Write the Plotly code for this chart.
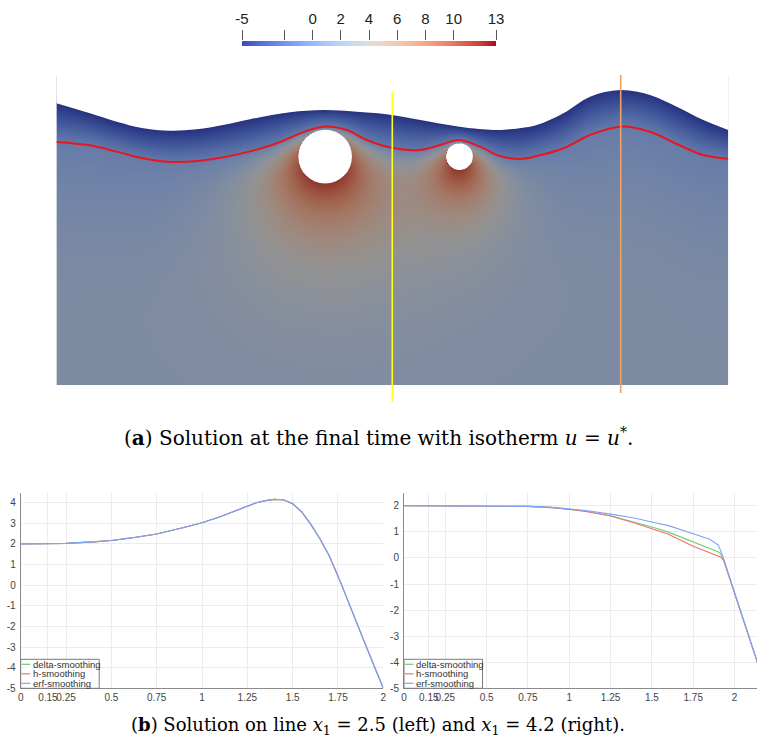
import numpy as np
import plotly.graph_objects as go

W, H = 757, 749

# ---------------- data ----------------
# upper boundary of the domain, x2 = h(x1)
surface_x = [0.0, 0.25, 0.449, 0.647, 0.846, 1.044, 1.240, 1.441, 1.739, 1.987, 2.284, 2.496,
             2.781, 3.054, 3.277, 3.376, 3.575, 3.773, 3.972, 4.195, 4.418, 4.617, 4.815, 5.0]
surface_y = [2.097, 2.022, 1.960, 1.911, 1.893, 1.903, 1.935, 1.978, 2.030, 2.047, 2.030, 2.010,
             1.960, 1.915, 1.898, 1.903, 1.935, 2.022, 2.146, 2.196, 2.159, 2.071, 1.972, 1.898]

# isotherm u = u* (= 0)
iso_x = [0.0, 0.25, 0.449, 0.647, 0.846, 1.044, 1.242, 1.441, 1.640, 1.739, 1.813, 1.987, 2.161,
         2.310, 2.496, 2.706, 2.855, 2.991, 3.153, 3.302, 3.451, 3.575, 3.773, 3.972, 4.195,
         4.418, 4.617, 4.815, 5.0]
iso_y = [1.809, 1.784, 1.737, 1.687, 1.660, 1.667, 1.695, 1.739, 1.799, 1.841, 1.873, 1.923, 1.898,
         1.824, 1.766, 1.749, 1.786, 1.824, 1.774, 1.704, 1.682, 1.704, 1.762, 1.861, 1.923,
         1.885, 1.794, 1.712, 1.684]

# heated holes
circle_x = [2.0, 3.0]
circle_y = [1.70, 1.70]
circle_r = [0.20, 0.10]
circle_u = [11.5, 13.0]
plume_width = [0.30, 0.20]
plume_stretch = 0.30
surface_u = -5.0
iso_taper = 0.12

# probe lines
probe_x = [2.5, 4.2]
probe_bottom = [-0.127, -0.06]
probe_top = [2.181, 2.307]
probe_colors = ["#ffff1a", "#f2a064"]

# solution along x1 = 2.5
left_x = [0.0, 0.1, 0.25, 0.4, 0.5, 0.6, 0.75, 0.9, 1.0, 1.1, 1.2, 1.25, 1.3, 1.35, 1.4, 1.45,
          1.5, 1.55, 1.6, 1.65, 1.7, 1.75, 1.77, 1.85, 1.9, 1.95, 2.0]
left_delta = [2.0, 2.01, 2.03, 2.1, 2.17, 2.28, 2.48, 2.8, 3.03, 3.32, 3.66, 3.84, 4.0, 4.1, 4.16,
              4.13, 3.95, 3.55, 2.95, 2.25, 1.45, 0.45, 0.0, -1.75, -2.85, -3.95, -5.0]
left_h = [2.0, 2.01, 2.03, 2.1, 2.17, 2.28, 2.48, 2.8, 3.03, 3.32, 3.66, 3.84, 4.0, 4.1, 4.16,
          4.13, 3.95, 3.55, 2.95, 2.25, 1.45, 0.42, 0.02, -1.75, -2.85, -3.95, -5.0]
left_erf = [2.0, 2.01, 2.03, 2.1, 2.17, 2.28, 2.48, 2.8, 3.03, 3.32, 3.66, 3.84, 4.0, 4.1, 4.17,
            4.14, 3.96, 3.56, 2.96, 2.26, 1.46, 0.46, 0.0, -1.75, -2.85, -3.95, -5.0]

# solution along x1 = 4.2
right_x = [0.0, 0.25, 0.5, 0.75, 0.9, 1.0, 1.1, 1.25, 1.4, 1.5, 1.6, 1.75, 1.85, 1.9, 1.915,
           1.935, 2.0, 2.1, 2.19]
right_delta = [2.0, 2.0, 2.0, 1.98, 1.93, 1.87, 1.79, 1.62, 1.37, 1.19, 0.99, 0.61, 0.36, 0.24,
               0.17, -0.1, -1.35, -3.3, -5.0]
right_h = [2.0, 2.0, 2.0, 1.98, 1.93, 1.87, 1.78, 1.61, 1.33, 1.13, 0.91, 0.45, 0.2, 0.08, 0.04,
           -0.1, -1.35, -3.3, -5.0]
right_erf = [2.0, 2.0, 2.0, 1.98, 1.94, 1.88, 1.82, 1.68, 1.52, 1.38, 1.24, 0.93, 0.72, 0.5, 0.3,
             -0.05, -1.3, -3.28, -5.0]

series_names = ["delta-smoothing", "h-smoothing", "erf-smoothing"]
series_colors = ["#6fcf6f", "#f07272", "#78a4ff"]

line_xticks = [0, 0.15, 0.25, 0.5, 0.75, 1, 1.25, 1.5, 1.75, 2]
line_xticktext = ["0", "0.15", "0.25", "0.5", "0.75", "1", "1.25", "1.5", "1.75", "2"]
left_yticks = [-5, -4, -3, -2, -1, 0, 1, 2, 3, 4]
right_yticks = [-5, -4, -3, -2, -1, 0, 1, 2]

cbar_ticks = [-5, 0, 2, 4, 6, 8, 10, 13]
cbar_minor_ticks = [-2]
u_min, u_max = -5, 13

# Cool to Warm (Moreland) colour map control points
cw_pos = [0.0, 0.0625, 0.125, 0.1875, 0.25, 0.3125, 0.375, 0.4375, 0.5, 0.5625, 0.625, 0.6875,
          0.75, 0.8125, 0.875, 0.9375, 1.0]
cw_rgb = [(59, 76, 192), (77, 104, 215), (98, 130, 234), (119, 154, 247), (141, 176, 254),
          (163, 194, 255), (184, 208, 249), (204, 217, 238), (221, 221, 221), (236, 211, 197),
          (245, 196, 173), (247, 177, 148), (244, 154, 123), (236, 127, 99), (222, 96, 77),
          (203, 62, 56), (180, 4, 38)]
shade = 0.66

# ---------------- helpers ----------------
def fx(px):
    return px / W


def fy(py):
    return 1 - py / H


def hermite(xk, yk, xq):
    xk = np.asarray(xk, float)
    yk = np.asarray(yk, float)
    m = np.gradient(yk, xk)
    i = np.clip(np.searchsorted(xk, xq) - 1, 0, len(xk) - 2)
    hh = xk[i + 1] - xk[i]
    t = (xq - xk[i]) / hh
    return ((2 * t**3 - 3 * t**2 + 1) * yk[i] + (t**3 - 2 * t**2 + t) * hh * m[i]
            + (-2 * t**3 + 3 * t**2) * yk[i + 1] + (t**3 - t**2) * hh * m[i + 1])


def scale(f):
    return [[p, "rgb(%d,%d,%d)" % tuple(int(round(c * f)) for c in rgb)] for p, rgb in zip(cw_pos, cw_rgb)]


# ---------------- temperature field ----------------
nx, ny, ytop = 672, 310, 2.3
xc = (np.arange(nx) + 0.5) * 5.0 / nx
yc = (np.arange(ny) + 0.5) * ytop / ny
X, Y = np.meshgrid(xc, yc)
hs = hermite(surface_x, surface_y, xc)[None, :]
gi = hermite(iso_x, iso_y, xc)[None, :]
depth = gi - Y

rx = np.asarray(right_x)
pos = rx < 1.93
d_tab = np.concatenate([[0.0], (1.93 - rx[pos])[::-1]])
v_tab = np.concatenate([[0.0], np.asarray(right_delta)[pos][::-1]])
base = np.interp(np.maximum(depth, 0), d_tab, v_tab)

keep = np.ones_like(X)
num = np.zeros_like(X)
wsum = np.zeros_like(X)
inside = np.zeros_like(X, bool)
u_hole = np.zeros_like(X)
for cx, cy, r, T, lam in zip(circle_x, circle_y, circle_r, circle_u, plume_width):
    dx = X - cx
    dy = Y - cy
    dist = np.hypot(dx, dy)
    d = np.maximum(dist - r, 0)
    down = np.clip(-dy / np.maximum(dist, 1e-9), 0, 1)
    de = d * (1 - plume_stretch * down)
    w = np.exp(-de / lam)
    num += w * T
    wsum += w
    keep *= (1 - w)
    inside |= dist < r
    u_hole = np.where(dist < r, T, u_hole)
w = (1 - keep) * (1 - np.exp(-np.maximum(depth, 0) / iso_taper))
Tm = num / np.maximum(wsum, 1e-12)
u_below = base * (1 - w) + Tm * w
frac = np.clip((Y - gi) / np.maximum(hs - gi, 1e-6), 0, 1)
u_cold = surface_u * frac
U = np.where(depth >= 0, u_below, u_cold)
U = np.where(inside, u_hole, U)
U = np.clip(U, u_min, u_max).astype(np.float32)

fig = go.Figure()

# field
fig.add_trace(go.Heatmap(x=xc, y=yc, z=U, colorscale=scale(shade), zmin=u_min, zmax=u_max,
                         showscale=False, hoverinfo="skip", xaxis="x", yaxis="y"))
# white area above the surface
fig.add_trace(go.Scatter(x=[-0.02, 5.02], y=[2.45, 2.45], mode="lines", line=dict(width=0),
                         hoverinfo="skip", xaxis="x", yaxis="y"))
fig.add_trace(go.Scatter(x=surface_x, y=surface_y, mode="lines", line=dict(width=0, shape="spline"),
                         fill="tonexty", fillcolor="white", hoverinfo="skip", xaxis="x", yaxis="y"))
# isotherm
fig.add_trace(go.Scatter(x=iso_x, y=iso_y, mode="lines", line=dict(color="#e8161e", width=2, shape="spline"),
                         hoverinfo="skip", xaxis="x", yaxis="y"))
# probe lines
for px_, y0, y1, col in zip(probe_x, probe_bottom, probe_top, probe_colors):
    fig.add_trace(go.Scatter(x=[px_, px_], y=[y0, y1], mode="lines", line=dict(color=col, width=1.6),
                             hoverinfo="skip", xaxis="x", yaxis="y"))

shapes = []
for cx, cy, r in zip(circle_x, circle_y, circle_r):
    shapes.append(dict(type="circle", xref="x", yref="y", x0=cx - r, x1=cx + r, y0=cy - r, y1=cy + r,
                       fillcolor="white", line=dict(width=0), layer="above"))

# line plots
for ys, col, name in zip([left_delta, left_h, left_erf], series_colors, series_names):
    fig.add_trace(go.Scatter(x=left_x, y=ys, mode="lines", name=name, line=dict(color=col, width=1.1),
                             xaxis="x2", yaxis="y2"))
for ys, col, name in zip([right_delta, right_h, right_erf], series_colors, series_names):
    fig.add_trace(go.Scatter(x=right_x, y=ys, mode="lines", name=name, line=dict(color=col, width=1.1),
                             xaxis="x3", yaxis="y3"))

# colour bar
cb_x = np.linspace(u_min, u_max, 256)
fig.add_trace(go.Heatmap(x=cb_x, y=[0], z=[cb_x], colorscale=scale(1.0), zmin=u_min, zmax=u_max,
                         showscale=False, hoverinfo="skip", xaxis="x4", yaxis="y4"))

tick_font = dict(family="Liberation Sans, Arial, sans-serif", size=10, color="#444444")
common_x = dict(tickvals=line_xticks, ticktext=line_xticktext, showgrid=True, gridcolor="#ececec",
                zeroline=False, showline=True, linecolor="#8a8a8a", linewidth=1, ticks="",
                tickfont=tick_font, tickangle=0, automargin=False, fixedrange=True)
common_y = dict(showgrid=True, gridcolor="#ececec", zeroline=False,
                showline=True, linecolor="#8a8a8a", linewidth=1, ticks="", tickfont=tick_font,
                ticklabelstandoff=2, tickangle=0, automargin=False, fixedrange=True)

# legends (drawn boxes)
annotations = []
for x_axis_px in [20.7, 404.0]:
    shapes.append(dict(type="rect", xref="paper", yref="paper", x0=fx(x_axis_px), x1=fx(x_axis_px + 78.5),
                       y0=fy(688.3), y1=fy(659.3), line=dict(color="#7a7a7a", width=1), fillcolor="rgba(255,255,255,0.6)"))
    for k, (name, col) in enumerate(zip(series_names, series_colors)):
        yy = 664.3 + 9.5 * k
        shapes.append(dict(type="line", xref="paper", yref="paper", x0=fx(x_axis_px + 0.8), x1=fx(x_axis_px + 9.5),
                           y0=fy(yy), y1=fy(yy), line=dict(color=col, width=1.2)))
        annotations.append(dict(xref="paper", yref="paper", x=fx(x_axis_px + 9.8), y=fy(yy), text=name,
                                showarrow=False, xanchor="left", yanchor="middle",
                                font=dict(family="Liberation Sans, Arial, sans-serif", size=9.5, color="#333333")))

annotations.append(dict(xref="paper", yref="paper", x=fx(378), y=fy(437),
                        text="(<b>a</b>) Solution at the final time with isotherm <i>u</i> = <i>u</i><sup>*</sup>.",
                        showarrow=False, xanchor="center", yanchor="middle",
                        font=dict(family="DejaVu Serif, serif", size=20, color="black")))
annotations.append(dict(xref="paper", yref="paper", x=fx(378), y=fy(726),
                        text="(<b>b</b>) Solution on line <i>x</i><sub>1</sub> = 2.5 (left) and <i>x</i><sub>1</sub> = 4.2 (right).",
                        showarrow=False, xanchor="center", yanchor="middle",
                        font=dict(family="DejaVu Serif, serif", size=18, color="black")))

s_px = 134.35
fig.update_layout(
    width=W, height=H, margin=dict(l=0, r=0, t=0, b=0, autoexpand=False), paper_bgcolor="white",
    plot_bgcolor="white", showlegend=False, shapes=shapes, annotations=annotations,
    xaxis=dict(domain=[fx(56.4), fx(728.2)], range=[0, 5], visible=False, fixedrange=True, automargin=False),
    yaxis=dict(domain=[fy(402), fy(60)], range=[(385 - 402) / s_px, (385 - 60) / s_px], visible=False,
               fixedrange=True, automargin=False),
    xaxis2=dict(domain=[fx(20.7), fx(383.3)], range=[0, 2], anchor="y2", **common_x),
    yaxis2=dict(domain=[fy(688.3), fy(493.3)], range=[-5, 4.456], anchor="x2", tickvals=left_yticks,
                ticktext=[str(v) for v in left_yticks], **common_y),
    xaxis3=dict(domain=[fx(404), 1.0], range=[0, 2.136], anchor="y3", **common_x),
    yaxis3=dict(domain=[fy(688.3), fy(493.3)], range=[-5, 2.48], anchor="x3", tickvals=right_yticks,
                ticktext=[str(v) for v in right_yticks], **common_y),
    xaxis4=dict(domain=[fx(242), fx(496)], range=[u_min, u_max], anchor="y4", side="top",
                tickvals=cbar_ticks, ticktext=[str(v) for v in cbar_ticks], ticks="outside", ticklen=10,
                tickwidth=1, tickcolor="#555555",
                minor=dict(tickvals=cbar_minor_ticks, ticks="outside", ticklen=10, tickwidth=1,
                           tickcolor="#555555", showgrid=False),
                showgrid=False, zeroline=False, showline=False, fixedrange=True,
                automargin=False, tickangle=0,
                tickfont=dict(family="Liberation Sans, Arial, sans-serif", size=15, color="#222222")),
    yaxis4=dict(domain=[fy(46), fy(41)], range=[-0.5, 0.5], anchor="x4", visible=False, fixedrange=True,
                automargin=False),
)

fig.write_html("out.html", config={"displayModeBar": False},
               post_script="document.body.style.margin='0px';")
